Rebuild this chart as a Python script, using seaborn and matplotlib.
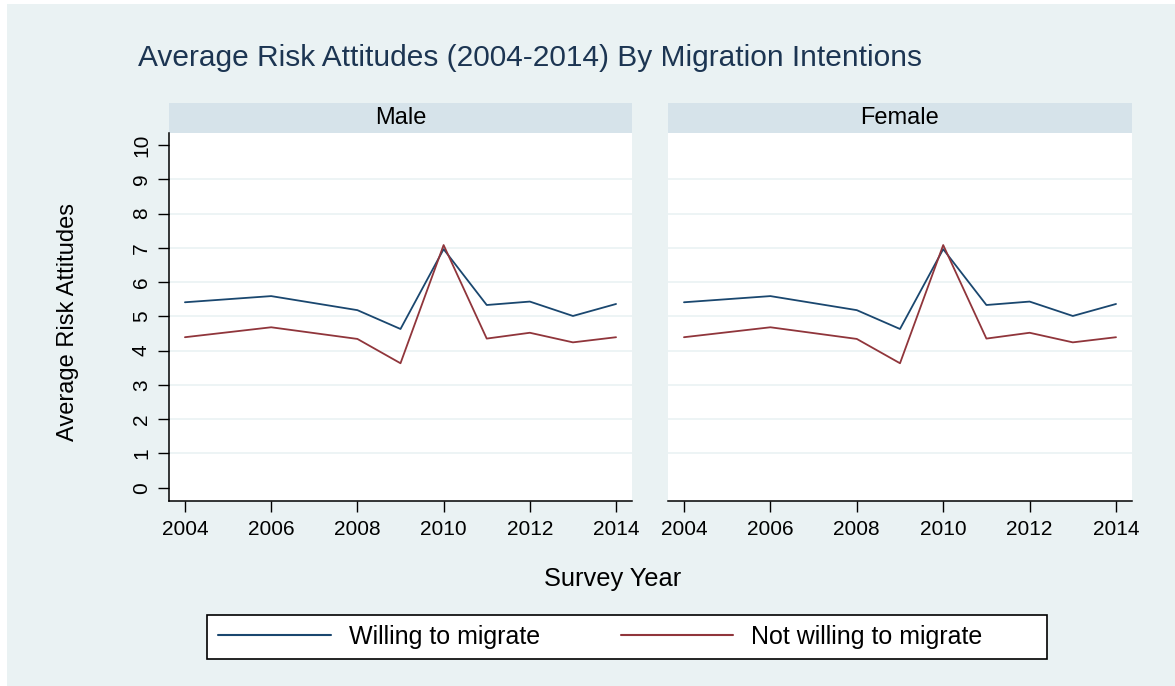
import pandas as pd
import matplotlib
matplotlib.use("Agg")
import matplotlib.pyplot as plt
from matplotlib.patches import Rectangle
from matplotlib.lines import Line2D
import seaborn as sns

# data
years = [2004, 2006, 2008, 2009, 2010, 2011, 2012, 2013, 2014]
willing = [5.41, 5.59, 5.18, 4.63, 6.96, 5.33, 5.43, 5.01, 5.36]
not_willing = [4.39, 4.68, 4.34, 3.63, 7.08, 4.35, 4.52, 4.24, 4.39]
panels = ["Male", "Female"]
groups = ["Willing to migrate", "Not willing to migrate"]
year_ticks = [2004, 2006, 2008, 2010, 2012, 2014]
y_ticks = list(range(0, 11))

# Stata s2color-ish palette
BG = "#EAF2F3"
STRIP = "#D6E3EA"
GRID = "#EAF2F3"
NAVY = "#1A476F"
MAROON = "#90353B"
TITLE_C = "#1C3552"

sns.set_style("white")
plt.rcParams["font.family"] = ["Liberation Sans", "DejaVu Sans"]

rows = []
for p in panels:
    for g, vals in zip(groups, [willing, not_willing]):
        for yr, v in zip(years, vals):
            rows.append({"panel": p, "group": g, "year": yr, "risk": v})
df = pd.DataFrame(rows)

W, H = 1175, 686
fig = plt.figure(figsize=(W / 100, H / 100), dpi=100, facecolor="white")


def fx(px):
    return px / W


def fy(py):
    return 1 - py / H


# graph region background (small white margin on top/left)
fig.patches.append(Rectangle((fx(7), 0), 1 - fx(7), fy(4), transform=fig.transFigure,
                             facecolor=BG, edgecolor="none", zorder=-10))

panel_x = [(169, 632), (668, 1132)]
top, bottom = 133, 501
strip_h = 30

for i, (p, (x0, x1)) in enumerate(zip(panels, panel_x)):
    ax = fig.add_axes([fx(x0), fy(bottom), fx(x1) - fx(x0), fy(top) - fy(bottom)])
    ax.set_facecolor("white")
    sub = df[df["panel"] == p]
    sns.lineplot(data=sub, x="year", y="risk", hue="group", hue_order=groups,
                 palette=[NAVY, MAROON], linewidth=1.3, ax=ax, legend=False)
    for g in range(1, 10):
        ax.axhline(g, color=GRID, linewidth=1.2, zorder=0)
    ax.set_xlim(2003.63, 2014.37)
    ax.set_ylim(-0.39, 10.35)
    ax.set_xticks(year_ticks)
    ax.set_xticklabels([str(t) for t in year_ticks], fontsize=15)
    ax.set_xlabel("")
    ax.set_ylabel("")
    ax.tick_params(axis="x", bottom=True, direction="out", length=8, width=1,
                   color="black", labelcolor="black", pad=6)
    for s in ["top", "right"]:
        ax.spines[s].set_visible(False)
    ax.spines["bottom"].set_color("black")
    ax.spines["bottom"].set_linewidth(1.1)
    if i == 0:
        ax.set_yticks(y_ticks)
        ax.set_yticklabels([str(t) for t in y_ticks], fontsize=15, rotation=90, va="center")
        ax.tick_params(axis="y", left=True, direction="out", length=8, width=1,
                       color="black", labelcolor="black", pad=5)
        ax.spines["left"].set_color("black")
        ax.spines["left"].set_linewidth(1.1)
    else:
        ax.set_yticks([])
        ax.spines["left"].set_visible(False)
    # strip title
    sh = strip_h / (bottom - top)
    ax.add_patch(Rectangle((0, 1), 1, sh, transform=ax.transAxes, facecolor=STRIP,
                           edgecolor="none", clip_on=False))
    ax.text(0.5, 1 + sh / 2, p, transform=ax.transAxes, ha="center", va="center",
            fontsize=17, color="black")

fig.text(fx(138), fy(66), "Average Risk Attitudes (2004-2014) By Migration Intentions",
         fontsize=21.5, color=TITLE_C, ha="left", va="baseline")
fig.text(fx(68), fy(322), "Average Risk Attitudes", fontsize=17, rotation=90,
         ha="center", va="center", color="black")
fig.text(fx(613), fy(586), "Survey Year", fontsize=18.3, ha="center", va="baseline",
         color="black")

# legend box
fig.patches.append(Rectangle((fx(207), fy(659)), fx(1047) - fx(207), fy(615) - fy(659),
                             transform=fig.transFigure, facecolor="white",
                             edgecolor="black", linewidth=1.2, zorder=1))
handles = [Line2D([], [], color=NAVY, linewidth=1.5),
           Line2D([], [], color=MAROON, linewidth=1.5)]
fig.legend(handles, groups, loc="center left", bbox_to_anchor=(fx(207), fy(637)),
           ncol=2, frameon=False, fontsize=18, handlelength=4.5,
           handletextpad=0.72, columnspacing=3.24, borderpad=0, borderaxespad=0.45,
           labelcolor="black")

fig.savefig("out.png", dpi=100, facecolor="white")
